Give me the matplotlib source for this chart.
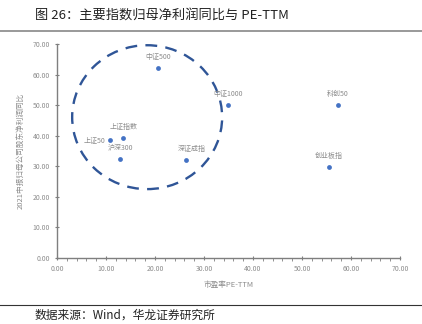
import matplotlib
matplotlib.use("Agg")
import matplotlib.pyplot as plt
from matplotlib.patches import Ellipse
from matplotlib.ticker import MultipleLocator, FormatStrFormatter

plt.rcParams['font.family'] = ['Noto Sans CJK SC', 'DejaVu Sans']

# PE-TTM (x) vs. net profit YoY growth (y) for major indices
names = ['中证500', '上证50', '上证指数', '沪深300', '深证成指', '中证1000', '科创50', '创业板指']
pe_ttm = [20.6, 10.8, 13.5, 12.9, 26.3, 34.9, 57.3, 55.5]
profit_yoy = [62.2, 38.6, 39.3, 32.4, 32.1, 50.0, 50.0, 29.8]

title = '图 26：主要指数归母净利润同比与 PE-TTM'
source = '数据来源：Wind，华龙证券研究所'
xlabel = '市盈率PE-TTM'
ylabel = '2021中报归母公司股东净利润同比'

fig = plt.figure(figsize=(4.22, 3.24), dpi=100)
ax = fig.add_axes([0.135, 0.2037, 0.813, 0.660])

ax.scatter(pe_ttm, profit_yoy, s=12, color='#4472C4', zorder=3, linewidths=0)

# label offsets in points
offsets = {
    '中证500': (0, 8, 'center'),
    '上证50': (-3, 0, 'right'),
    '上证指数': (0, 8, 'center'),
    '沪深300': (0, 8, 'center'),
    '深证成指': (4, 8, 'center'),
    '中证1000': (0, 8, 'center'),
    '科创50': (0, 8, 'center'),
    '创业板指': (0, 8, 'center'),
}
for n, x, y in zip(names, pe_ttm, profit_yoy):
    dx, dy, ha = offsets[n]
    ax.annotate(n, (x, y), xytext=(dx, dy), textcoords='offset points',
                ha=ha, va='center', fontsize=5, color='#8c8c8c')

# dashed circle around the large-cap cluster
ell = Ellipse((18.4, 46.1), 30.6, 47.1, fill=False, edgecolor='#2F5597',
              linestyle=(0, (5, 3.5)), linewidth=1.7, zorder=2)
ax.add_patch(ell)

ax.set_xlim(0, 70)
ax.set_ylim(0, 70)
ax.xaxis.set_major_locator(MultipleLocator(10))
ax.xaxis.set_minor_locator(MultipleLocator(2))
ax.yaxis.set_major_locator(MultipleLocator(10))
ax.xaxis.set_major_formatter(FormatStrFormatter('%.2f'))
ax.yaxis.set_major_formatter(FormatStrFormatter('%.2f'))
for s in ['top', 'right']:
    ax.spines[s].set_visible(False)
for s in ['left', 'bottom']:
    ax.spines[s].set_color('#7f7f7f')
    ax.spines[s].set_linewidth(1.0)
ax.tick_params(axis='both', which='major', labelsize=5, colors='#7f7f7f',
               labelcolor='#8c8c8c', length=3, width=0.8, direction='inout')
ax.tick_params(axis='x', which='minor', length=2, width=0.6, colors='#7f7f7f', direction='out')

ax.set_xlabel(xlabel, fontsize=5.5, color='#8c8c8c', labelpad=6)
ax.set_ylabel(ylabel, fontsize=5.5, color='#8c8c8c', labelpad=6)

fig.text(0.083, 0.952, title, fontsize=9.5, color='#222222', va='center', ha='left')
fig.add_artist(plt.Line2D([0, 1], [0.905, 0.905], color='#888888', linewidth=1.2,
                          transform=fig.transFigure))
fig.add_artist(plt.Line2D([0, 1], [0.059, 0.059], color='#333333', linewidth=0.8,
                          transform=fig.transFigure))
fig.text(0.083, 0.028, source, fontsize=8.5, color='#222222', va='center', ha='left')

fig.savefig('out.png', dpi=100)
